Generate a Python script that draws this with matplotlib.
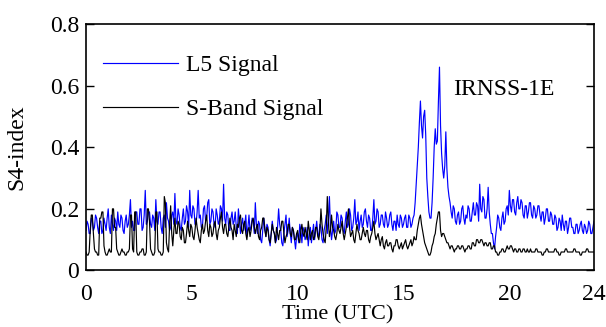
import numpy as np
import matplotlib
matplotlib.use("Agg")
import matplotlib.pyplot as plt

# S4 scintillation index of IRNSS-1E, sampled every 0.05 h over one UTC day
utc_hours = np.round(np.arange(0, 481) * 0.05, 2)

s4_l5 = [
    # 00 h
    0.13, 0.16, 0.15, 0.12, 0.12, 0.17, 0.16, 0.13, 0.14, 0.18,
    0.17, 0.14, 0.12, 0.16, 0.16, 0.12, 0.13, 0.17, 0.15, 0.13,
    # 01 h
    0.17, 0.20, 0.14, 0.12, 0.18, 0.15, 0.13, 0.17, 0.16, 0.13,
    0.19, 0.15, 0.14, 0.18, 0.17, 0.13, 0.12, 0.16, 0.18, 0.14,
    # 02 h
    0.15, 0.18, 0.23, 0.14, 0.16, 0.13, 0.13, 0.19, 0.19, 0.15,
    0.15, 0.20, 0.20, 0.13, 0.14, 0.18, 0.26, 0.15, 0.16, 0.19,
    # 03 h
    0.19, 0.15, 0.14, 0.18, 0.17, 0.13, 0.23, 0.16, 0.15, 0.19,
    0.19, 0.14, 0.12, 0.17, 0.18, 0.14, 0.22, 0.17, 0.16, 0.13,
    # 04 h
    0.14, 0.18, 0.19, 0.15, 0.25, 0.16, 0.15, 0.20, 0.18, 0.14,
    0.13, 0.17, 0.20, 0.15, 0.16, 0.21, 0.19, 0.14, 0.26, 0.18,
    # 05 h
    0.17, 0.21, 0.20, 0.15, 0.15, 0.19, 0.26, 0.17, 0.18, 0.14,
    0.14, 0.20, 0.21, 0.16, 0.17, 0.22, 0.23, 0.15, 0.16, 0.20,
    # 06 h
    0.19, 0.15, 0.14, 0.20, 0.18, 0.15, 0.16, 0.21, 0.20, 0.16,
    0.28, 0.17, 0.15, 0.19, 0.18, 0.13, 0.13, 0.17, 0.19, 0.15,
    # 07 h
    0.16, 0.19, 0.14, 0.12, 0.20, 0.16, 0.12, 0.15, 0.17, 0.13,
    0.15, 0.18, 0.11, 0.14, 0.18, 0.13, 0.14, 0.17, 0.16, 0.12,
    # 08 h
    0.22, 0.15, 0.12, 0.16, 0.15, 0.10, 0.09, 0.13, 0.17, 0.14,
    0.11, 0.15, 0.14, 0.10, 0.08, 0.12, 0.16, 0.13, 0.12, 0.09,
    # 09 h
    0.10, 0.14, 0.20, 0.15, 0.13, 0.09, 0.08, 0.12, 0.15, 0.18,
    0.11, 0.13, 0.17, 0.12, 0.09, 0.14, 0.13, 0.10, 0.07, 0.11,
    # 10 h
    0.12, 0.09, 0.15, 0.13, 0.09, 0.14, 0.13, 0.10, 0.11, 0.14,
    0.08, 0.12, 0.14, 0.09, 0.12, 0.15, 0.10, 0.13, 0.16, 0.12,
    # 11 h
    0.11, 0.15, 0.14, 0.10, 0.09, 0.13, 0.15, 0.18, 0.12, 0.16,
    0.24, 0.14, 0.10, 0.13, 0.16, 0.12, 0.13, 0.19, 0.18, 0.14,
    # 12 h
    0.14, 0.18, 0.17, 0.13, 0.12, 0.16, 0.19, 0.14, 0.15, 0.20,
    0.18, 0.13, 0.14, 0.17, 0.23, 0.15, 0.16, 0.19, 0.13, 0.16,
    # 13 h
    0.18, 0.14, 0.15, 0.19, 0.20, 0.16, 0.14, 0.18, 0.17, 0.13,
    0.13, 0.17, 0.23, 0.15, 0.16, 0.20, 0.19, 0.14, 0.15, 0.18,
    # 14 h
    0.18, 0.15, 0.14, 0.19, 0.17, 0.14, 0.15, 0.18, 0.19, 0.15,
    0.13, 0.16, 0.16, 0.13, 0.18, 0.15, 0.14, 0.18, 0.17, 0.14,
    # 15 h
    0.15, 0.17, 0.18, 0.14, 0.14, 0.18, 0.17, 0.14, 0.15, 0.17,
    0.18, 0.22, 0.28, 0.34, 0.40, 0.48, 0.55, 0.47, 0.43, 0.50,
    # 16 h
    0.52, 0.44, 0.30, 0.24, 0.19, 0.17, 0.17, 0.22, 0.30, 0.40,
    0.46, 0.41, 0.42, 0.55, 0.66, 0.47, 0.38, 0.33, 0.30, 0.34,
    # 17 h
    0.45, 0.33, 0.27, 0.24, 0.22, 0.19, 0.17, 0.21, 0.20, 0.16,
    0.15, 0.18, 0.19, 0.15, 0.16, 0.20, 0.21, 0.17, 0.15, 0.18,
    # 18 h
    0.17, 0.21, 0.20, 0.16, 0.16, 0.19, 0.22, 0.18, 0.18, 0.22,
    0.21, 0.16, 0.28, 0.20, 0.19, 0.24, 0.23, 0.17, 0.17, 0.20,
    # 19 h
    0.27, 0.19, 0.15, 0.12, 0.12, 0.09, 0.07, 0.11, 0.14, 0.18,
    0.17, 0.14, 0.13, 0.17, 0.19, 0.15, 0.16, 0.20, 0.21, 0.18,
    # 20 h
    0.26, 0.21, 0.19, 0.23, 0.23, 0.19, 0.18, 0.22, 0.24, 0.20,
    0.20, 0.23, 0.22, 0.18, 0.17, 0.21, 0.21, 0.17, 0.19, 0.22,
    # 21 h
    0.22, 0.18, 0.17, 0.21, 0.20, 0.17, 0.18, 0.21, 0.21, 0.18,
    0.16, 0.19, 0.19, 0.15, 0.17, 0.20, 0.20, 0.16, 0.16, 0.19,
    # 22 h
    0.18, 0.15, 0.15, 0.18, 0.17, 0.13, 0.14, 0.17, 0.16, 0.13,
    0.18, 0.15, 0.13, 0.16, 0.16, 0.12, 0.14, 0.17, 0.17, 0.14,
    # 23 h
    0.14, 0.12, 0.12, 0.15, 0.15, 0.12, 0.13, 0.15, 0.16, 0.13,
    0.12, 0.15, 0.14, 0.12, 0.13, 0.16, 0.15, 0.12, 0.12, 0.14,
    # 24 h
    0.16,
]

s4_sband = [
    # 00 h
    0.06, 0.05, 0.05, 0.06, 0.13, 0.18, 0.18, 0.12, 0.07, 0.06,
    0.06, 0.05, 0.05, 0.17, 0.17, 0.19, 0.19, 0.08, 0.06, 0.05,
    # 01 h
    0.05, 0.06, 0.07, 0.06, 0.06, 0.20, 0.20, 0.14, 0.14, 0.07,
    0.06, 0.05, 0.05, 0.06, 0.07, 0.06, 0.06, 0.05, 0.05, 0.06,
    # 02 h
    0.06, 0.07, 0.18, 0.18, 0.07, 0.06, 0.19, 0.19, 0.06, 0.05,
    0.05, 0.06, 0.06, 0.07, 0.07, 0.05, 0.05, 0.06, 0.20, 0.20,
    # 03 h
    0.16, 0.07, 0.06, 0.05, 0.05, 0.06, 0.19, 0.19, 0.07, 0.06,
    0.06, 0.05, 0.05, 0.06, 0.24, 0.22, 0.09, 0.07, 0.06, 0.15,
    # 04 h
    0.21, 0.12, 0.08, 0.13, 0.17, 0.12, 0.12, 0.16, 0.15, 0.11,
    0.10, 0.14, 0.13, 0.09, 0.09, 0.12, 0.16, 0.13, 0.11, 0.15,
    # 05 h
    0.14, 0.11, 0.10, 0.13, 0.17, 0.14, 0.12, 0.10, 0.09, 0.13,
    0.15, 0.12, 0.13, 0.16, 0.18, 0.13, 0.11, 0.15, 0.14, 0.11,
    # 06 h
    0.12, 0.15, 0.16, 0.12, 0.10, 0.13, 0.14, 0.17, 0.19, 0.14,
    0.12, 0.15, 0.15, 0.12, 0.11, 0.14, 0.17, 0.14, 0.13, 0.10,
    # 07 h
    0.15, 0.13, 0.11, 0.15, 0.14, 0.17, 0.18, 0.13, 0.12, 0.15,
    0.16, 0.12, 0.10, 0.13, 0.14, 0.11, 0.13, 0.16, 0.17, 0.14,
    # 08 h
    0.12, 0.14, 0.15, 0.11, 0.10, 0.13, 0.14, 0.17, 0.17, 0.13,
    0.11, 0.14, 0.13, 0.10, 0.09, 0.12, 0.15, 0.13, 0.12, 0.09,
    # 09 h
    0.14, 0.12, 0.10, 0.13, 0.13, 0.16, 0.16, 0.12, 0.09, 0.11,
    0.12, 0.15, 0.15, 0.12, 0.11, 0.14, 0.13, 0.10, 0.10, 0.12,
    # 10 h
    0.13, 0.10, 0.09, 0.13, 0.15, 0.12, 0.11, 0.14, 0.12, 0.10,
    0.16, 0.13, 0.10, 0.12, 0.13, 0.10, 0.11, 0.14, 0.14, 0.11,
    # 11 h
    0.10, 0.13, 0.20, 0.15, 0.12, 0.10, 0.09, 0.14, 0.24, 0.16,
    0.11, 0.13, 0.18, 0.14, 0.13, 0.11, 0.10, 0.12, 0.15, 0.13,
    # 12 h
    0.12, 0.14, 0.16, 0.12, 0.10, 0.12, 0.14, 0.17, 0.20, 0.14,
    0.11, 0.12, 0.13, 0.10, 0.09, 0.12, 0.15, 0.13, 0.12, 0.10,
    # 13 h
    0.10, 0.12, 0.14, 0.12, 0.11, 0.13, 0.13, 0.10, 0.09, 0.11,
    0.12, 0.14, 0.16, 0.12, 0.10, 0.11, 0.12, 0.10, 0.08, 0.10,
    # 14 h
    0.11, 0.08, 0.07, 0.09, 0.10, 0.08, 0.08, 0.09, 0.09, 0.07,
    0.06, 0.08, 0.08, 0.10, 0.10, 0.08, 0.07, 0.08, 0.09, 0.07,
    # 15 h
    0.08, 0.09, 0.10, 0.08, 0.07, 0.08, 0.09, 0.10, 0.08, 0.09,
    0.11, 0.10, 0.10, 0.13, 0.15, 0.17, 0.18, 0.15, 0.13, 0.11,
    # 16 h
    0.09, 0.08, 0.07, 0.06, 0.05, 0.05, 0.06, 0.08, 0.09, 0.11,
    0.12, 0.15, 0.17, 0.19, 0.19, 0.13, 0.11, 0.12, 0.12, 0.11,
    # 17 h
    0.10, 0.09, 0.09, 0.08, 0.07, 0.08, 0.08, 0.07, 0.06, 0.07,
    0.07, 0.08, 0.08, 0.07, 0.07, 0.08, 0.08, 0.07, 0.06, 0.07,
    # 18 h
    0.07, 0.08, 0.08, 0.07, 0.07, 0.09, 0.09, 0.08, 0.08, 0.10,
    0.10, 0.09, 0.09, 0.10, 0.10, 0.09, 0.08, 0.09, 0.09, 0.08,
    # 19 h
    0.08, 0.09, 0.09, 0.07, 0.07, 0.08, 0.08, 0.06, 0.06, 0.05,
    0.05, 0.06, 0.06, 0.07, 0.07, 0.06, 0.06, 0.07, 0.08, 0.07,
    # 20 h
    0.07, 0.08, 0.08, 0.07, 0.06, 0.07, 0.07, 0.06, 0.06, 0.07,
    0.07, 0.06, 0.06, 0.07, 0.07, 0.06, 0.06, 0.07, 0.06, 0.06,
    # 21 h
    0.07, 0.06, 0.06, 0.06, 0.06, 0.07, 0.07, 0.06, 0.06, 0.06,
    0.06, 0.05, 0.05, 0.06, 0.06, 0.07, 0.07, 0.06, 0.06, 0.06,
    # 22 h
    0.06, 0.06, 0.06, 0.07, 0.07, 0.06, 0.06, 0.05, 0.05, 0.06,
    0.06, 0.06, 0.06, 0.07, 0.07, 0.06, 0.06, 0.06, 0.06, 0.06,
    # 23 h
    0.06, 0.07, 0.07, 0.06, 0.06, 0.06, 0.06, 0.05, 0.05, 0.06,
    0.06, 0.06, 0.06, 0.07, 0.07, 0.06, 0.06, 0.06, 0.06, 0.06,
    # 24 h
    0.06,
]

x_ticks = [0, 5, 10, 15, 20, 24]
y_ticks = [0, 0.2, 0.4, 0.6, 0.8]
y_tick_labels = ["0", "0.2", "0.4", "0.6", "0.8"]

plt.rcParams["font.family"] = ["Liberation Serif", "DejaVu Serif"]
FS = 17

fig = plt.figure(figsize=(6.06, 3.27), dpi=100)
ax = fig.add_axes([0.1419, 0.1728, 0.8383, 0.7538])

ax.plot(utc_hours, s4_l5, color="#0000ff", lw=0.85, label="L5 Signal")
ax.plot(utc_hours, s4_sband, color="black", lw=0.85, label="S-Band Signal")

ax.set_xlim(0, 24)
ax.set_ylim(0, 0.8)
ax.set_xticks(x_ticks)
ax.set_xticklabels([str(t) for t in x_ticks])
ax.set_yticks(y_ticks)
ax.set_yticklabels(y_tick_labels)

ax.tick_params(axis="y", direction="in", length=6, width=1, right=True,
               labelsize=FS, pad=5)
ax.tick_params(axis="x", length=0, labelsize=FS, pad=10)
for sp in ax.spines.values():
    sp.set_linewidth(1.2)

ax.set_xlabel("Time (UTC)", fontsize=16, va="bottom")
ax.xaxis.set_label_coords(0.496, -0.22)
ax.set_ylabel("S4-index", fontsize=FS)
ax.yaxis.set_label_coords(-0.116, 0.5)

ax.legend(loc="upper left", bbox_to_anchor=(0.0, 0.944), frameon=False,
          fontsize=FS, handlelength=3.2, handletextpad=0.35,
          labelspacing=0.96, borderaxespad=0.3)

ax.text(0.722, 0.735, "IRNSS-1E", transform=ax.transAxes, fontsize=FS,
        ha="left", va="center")

fig.savefig("out.png", dpi=100)
